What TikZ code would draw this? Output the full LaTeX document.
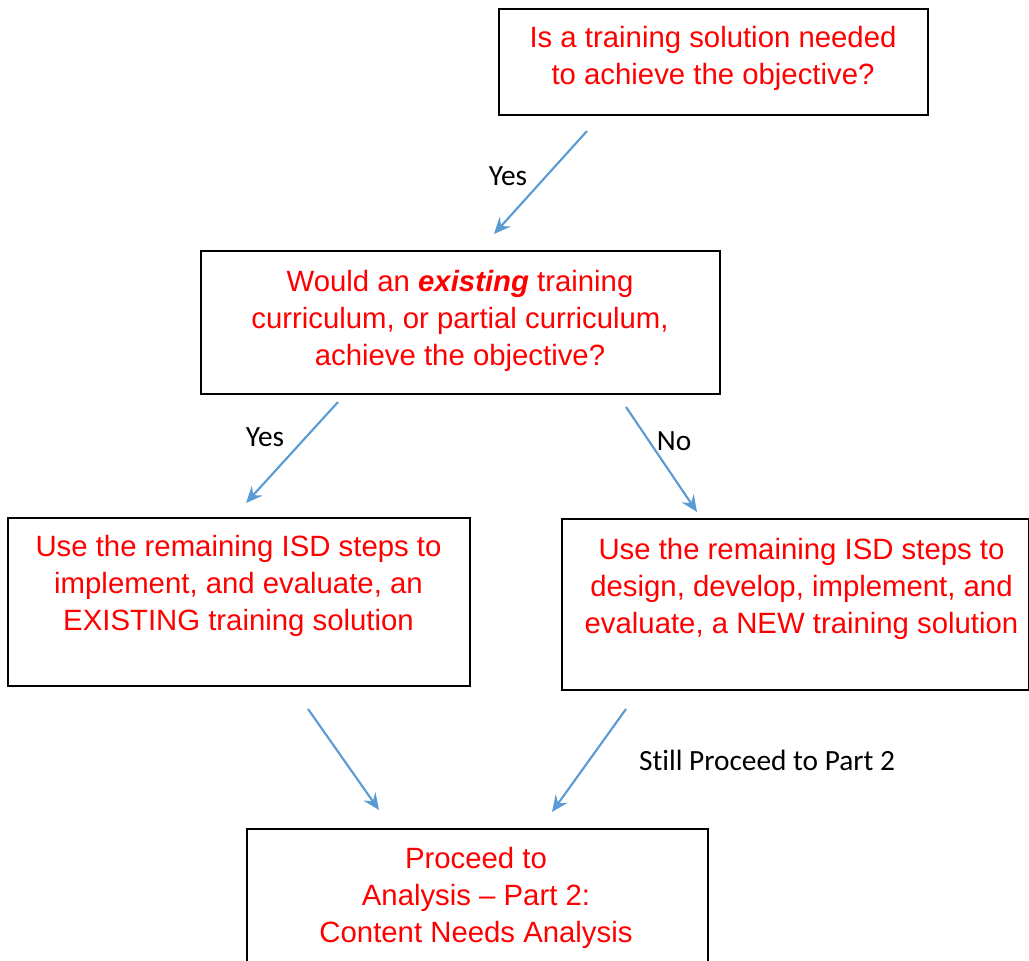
\documentclass[tikz,border=0pt]{standalone}
\usepackage{fontspec}
\setmainfont{Liberation Sans}
\newfontfamily\labelfont[Ligatures=NoCommon]{Carlito}
\usetikzlibrary{arrows.meta}
\definecolor{flowblue}{HTML}{5B9BD5}
\definecolor{boxred}{HTML}{FF0000}
\begin{document}
\begin{tikzpicture}[x=0.75pt,y=-0.75pt,
  box/.style={draw=black,line width=1.5pt,rectangle,inner sep=0pt,anchor=north west},
  boxtext/.style={text=boxred,align=center,inner sep=0pt,
    font=\fontsize{22pt}{27.75pt}\selectfont},
  flow/.style={draw=flowblue,line width=1.6pt,
    -{Stealth[length=12.5pt,width=11pt,inset=4.5pt]}},
  flowlabel/.style={text=black,inner sep=0pt,font=\labelfont\fontsize{22pt}{26pt}\selectfont}]
\useasboundingbox (0,0) rectangle (1029,961);
\clip (0,0) rectangle (1029,961);

% boxes
\node[box,minimum width=321.75pt,minimum height=79.5pt] (q1) at (498,8) {};
\node[box,minimum width=389.25pt,minimum height=107.25pt] (q2) at (200,250) {};
\node[box,minimum width=346.5pt,minimum height=126pt] (old) at (7,517) {};
\node[box,minimum width=350.25pt,minimum height=128.25pt] (new) at (561,518) {};
\node[box,minimum width=345.75pt,minimum height=120pt] (next) at (246,828) {};

% box texts
\node[boxtext] (q1t) at (713,58.5) {Is a training solution needed\\to achieve the objective?};
\node[boxtext] (q2t) at (460,321) {Would an \textbf{\textit{existing}} training\\curriculum, or partial curriculum,\\achieve the objective?};
\node[boxtext] (oldt) at (238.5,586) {Use the remaining ISD steps to\\implement, and evaluate, an\\EXISTING training solution};
\node[boxtext] (newt) at (801.5,589) {Use the remaining ISD steps to\\design, develop, implement, and\\evaluate, a NEW training solution};
\node[boxtext] (nextt) at (476,898) {Proceed to\\Analysis -- Part 2:\\Content Needs Analysis};

% arrow end points
\coordinate (a1s) at (587,131); \coordinate (a1e) at (494,234);
\coordinate (a2s) at (338,402); \coordinate (a2e) at (246,503);
\coordinate (a3s) at (626,407); \coordinate (a3e) at (697,512);
\coordinate (a4s) at (308,709); \coordinate (a4e) at (379,810);
\coordinate (a5s) at (626,709); \coordinate (a5e) at (552,812);

\draw[flow] (a1s) -- (a1e);
\draw[flow] (a2s) -- (a2e);
\draw[flow] (a3s) -- (a3e);
\draw[flow] (a4s) -- (a4e);
\draw[flow] (a5s) -- (a5e);

% labels
\node[flowlabel] (l1) at (508,176) {Yes};
\node[flowlabel] (l2) at (265,437) {Yes};
\node[flowlabel] (l3) at (674,441) {No};
\node[flowlabel] (l4) at (767,760) {Still Proceed to Part 2};
\end{tikzpicture}
\end{document}
